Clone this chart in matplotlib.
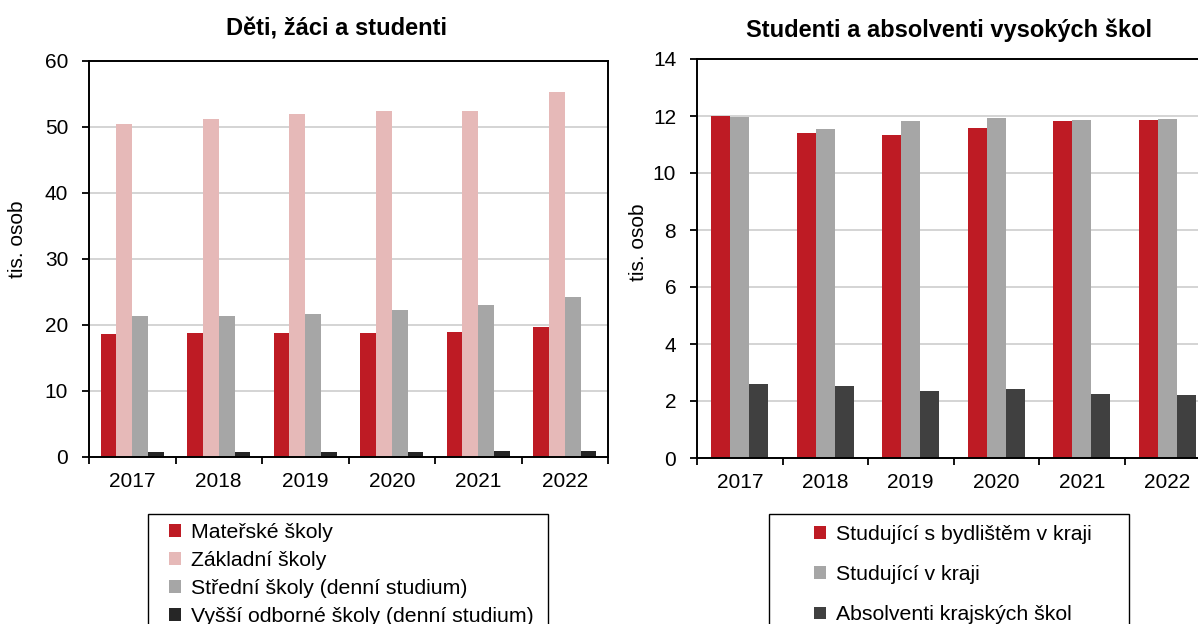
import numpy as np
import matplotlib
matplotlib.use("Agg")
import matplotlib.pyplot as plt
from matplotlib.patches import Rectangle

plt.rcParams["font.family"] = ["Liberation Sans", "DejaVu Sans"]

# ============================================
# DATA
# ============================================
years = ["2017", "2018", "2019", "2020", "2021", "2022"]

# left chart - thousands of persons
materske  = [18.65, 18.85, 18.85, 18.75, 18.95, 19.67]
zakladni  = [50.5, 51.2, 51.95, 52.5, 52.45, 55.35]
stredni   = [21.3, 21.3, 21.6, 22.2, 23.1, 24.3]
vyssi_odb = [0.76, 0.70, 0.76, 0.80, 0.90, 0.96]

left_labels = [
    "Mateřské školy",
    "Základní školy",
    "Střední školy (denní studium)",
    "Vyšší odborné školy (denní studium)",
]

# right chart - thousands of persons
stud_bydliste = [12.0, 11.39, 11.32, 11.57, 11.83, 11.86]
stud_kraj     = [11.98, 11.56, 11.81, 11.93, 11.87, 11.90]
absolventi    = [2.61, 2.54, 2.36, 2.41, 2.26, 2.22]

right_labels = [
    "Studující s bydlištěm v kraji",
    "Studující v kraji",
    "Absolventi krajských škol",
]

# ============================================
# STYLE
# ============================================
RED   = "#BE1B24"
PINK  = "#E6B9B8"
GRAY  = "#A6A6A6"
BLACK = "#262626"
DARK  = "#404040"
GRID  = "#D4D4D4"

W, H = 1198, 624
FS = 15
LEG_FS = 15.3


def px(x, y):
    # pixel position (top-left origin) -> figure fraction
    return x / W, 1 - y / H


def style_axes(ax, ymax, ystep):
    ax.set_xlim(-0.5, len(years) - 0.5)
    ax.set_ylim(0, ymax)
    ax.set_yticks(np.arange(0, ymax + 0.01, ystep))
    ax.set_xticks(np.arange(-0.5, len(years)), labels=[""] * (len(years) + 1))
    ax.set_xticks(np.arange(len(years)), labels=years, minor=True)
    ax.tick_params(axis="x", which="major", direction="out", length=5, width=1.3)
    ax.tick_params(axis="x", which="minor", length=0, pad=11, labelsize=FS)
    ax.tick_params(axis="y", direction="out", length=5, width=1.3, pad=10, labelsize=FS)
    ax.yaxis.grid(True, color=GRID, linewidth=1.4)
    ax.set_axisbelow(True)
    for s in ax.spines.values():
        s.set_linewidth(1.4)
        s.set_color("black")
    ax.set_ylabel("tis. osob", fontsize=FS)


fig = plt.figure(figsize=(W / 100, H / 100), dpi=100)

# ============================================
# LEFT - Děti, žáci a studenti
# ============================================
ax1 = fig.add_axes([89 / W, 1 - 457 / H, 519 / W, 396 / H])
x = np.arange(len(years))
w1 = 0.183
left_series = [materske, zakladni, stredni, vyssi_odb]
left_colors = [RED, PINK, GRAY, BLACK]
for i, (vals, col, lab) in enumerate(zip(left_series, left_colors, left_labels)):
    ax1.bar(x + (i - 1.5) * w1, vals, width=w1, color=col, label=lab, zorder=2)
style_axes(ax1, 60, 10)
ax1.yaxis.set_label_coords(-0.119, 0.55)
fig.text(*px(336, 29), "Děti, žáci a studenti", ha="center", va="center",
         fontsize=17, fontweight="bold")

# ============================================
# RIGHT - Studenti a absolventi vysokých škol
# ============================================
ax2 = fig.add_axes([697 / W, 1 - 458 / H, 513 / W, 399 / H])
w2 = 0.224
right_series = [stud_bydliste, stud_kraj, absolventi]
right_colors = [RED, GRAY, DARK]
for i, (vals, col, lab) in enumerate(zip(right_series, right_colors, right_labels)):
    ax2.bar(x + (i - 1) * w2, vals, width=w2, color=col, label=lab, zorder=2)
style_axes(ax2, 14, 2)
ax2.yaxis.set_label_coords(-0.0955, 0.541)
fig.text(*px(949, 30), "Studenti a absolventi vysokých škol", ha="center", va="center",
         fontsize=17, fontweight="bold")

# ============================================
# LEGENDS (below the charts, frames run past the bottom edge)
# ============================================
ax1.legend(loc="upper left", bbox_to_anchor=px(169, 523),
           bbox_transform=fig.transFigure, frameon=False, fontsize=LEG_FS,
           handlelength=0.55, handleheight=0.55, handletextpad=0.5,
           labelspacing=0.42, borderpad=0, borderaxespad=0)
ax2.legend(loc="upper left", bbox_to_anchor=px(814, 525),
           bbox_transform=fig.transFigure, frameon=False, fontsize=LEG_FS,
           handlelength=0.55, handleheight=0.55, handletextpad=0.5,
           labelspacing=1.0, borderpad=0, borderaxespad=0)

for (x0, x1) in [(148, 548), (769, 1129)]:
    fx0, fy0 = px(x0, 650)
    fx1, fy1 = px(x1, 514)
    fig.patches.append(Rectangle((fx0, fy0), fx1 - fx0, fy1 - fy0,
                                 transform=fig.transFigure, fill=False,
                                 edgecolor="black", linewidth=1.0, clip_on=False))

fig.savefig("out.png", dpi=100)
